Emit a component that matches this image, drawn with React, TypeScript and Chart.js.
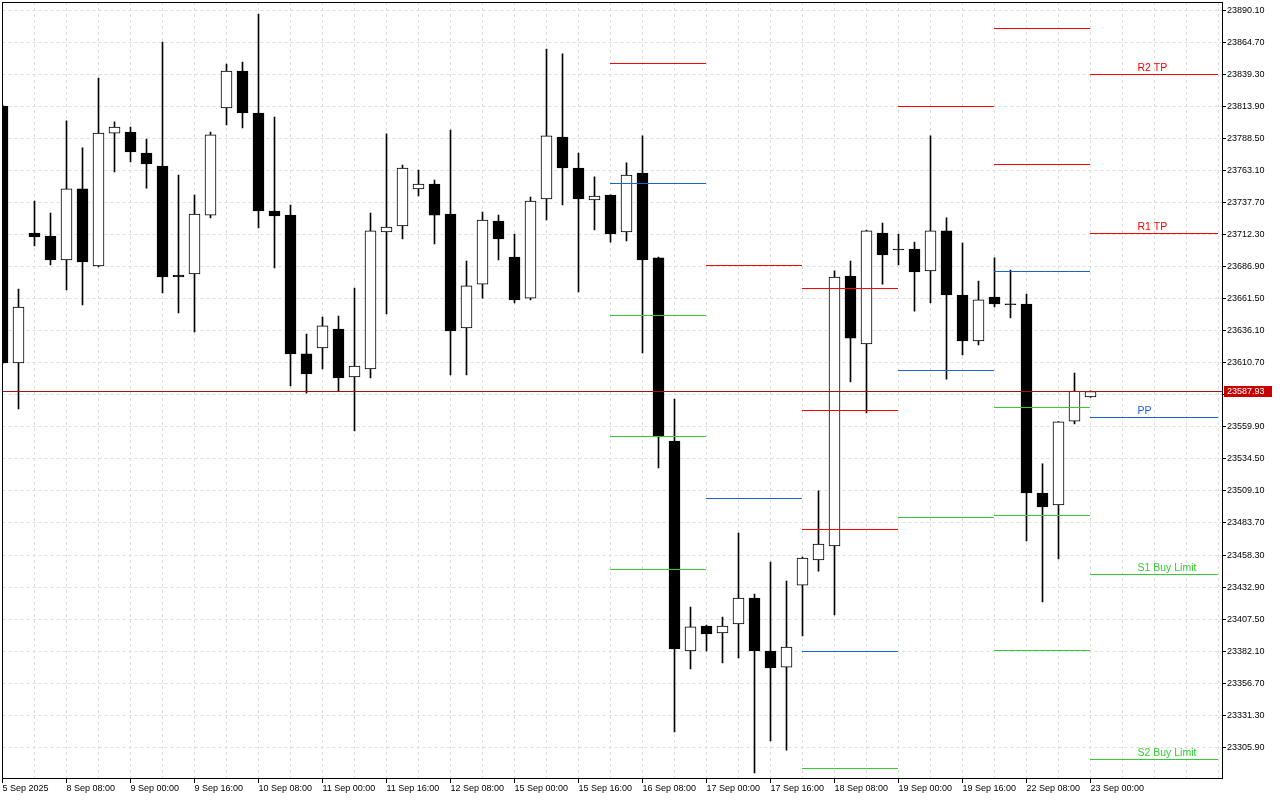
import React, { useEffect, useRef } from 'react';
import { Chart, registerables } from 'chart.js';

Chart.register(...registerables);

const FONT = '"Liberation Sans", Arial, sans-serif';

// ---- time axis labels (every 4th H4 candle) ----
const TIME_LABELS = [
  '5 Sep 2025', '8 Sep 08:00', '9 Sep 00:00', '9 Sep 16:00', '10 Sep 08:00', '11 Sep 00:00',
  '11 Sep 16:00', '12 Sep 08:00', '15 Sep 00:00', '15 Sep 16:00', '16 Sep 08:00', '17 Sep 00:00',
  '17 Sep 16:00', '18 Sep 08:00', '19 Sep 00:00', '19 Sep 16:00', '22 Sep 08:00', '23 Sep 00:00',
];

// ---- OHLC series ----
const OPEN = [
  23814.2, 23610.5, 23713.6, 23711.2, 23692.2, 23748.5, 23687.4, 23792.8, 23793.6, 23777.0,
  23766.7, 23680.3, 23681.1, 23727.8, 23812.7, 23842.0, 23808.7, 23731.0, 23727.8, 23617.7,
  23622.4, 23637.5, 23599.4, 23605.8, 23714.4, 23719.1, 23748.5, 23752.4, 23728.6, 23638.3,
  23673.1, 23723.1, 23694.5, 23662.0, 23740.5, 23789.7, 23765.1, 23739.7, 23743.7, 23714.4,
  23761.1, 23693.8, 23548.7, 23382.2, 23402.0, 23396.5, 23403.6, 23424.2, 23382.2, 23369.5,
  23434.5, 23454.4, 23465.5, 23679.5, 23625.6, 23713.6, 23700.9, 23700.9, 23683.5, 23715.2,
  23664.4, 23628.0, 23662.8, 23657.5, 23657.3, 23507.5, 23498.0, 23564.5, 23583.6,
];
const HIGH = [
  23815.0, 23669.2, 23738.9, 23729.4, 23802.4, 23781.0, 23836.4, 23801.6, 23797.6, 23788.1,
  23865.0, 23759.5, 23743.7, 23793.6, 23847.5, 23849.1, 23887.2, 23805.5, 23735.8, 23633.5,
  23647.0, 23647.8, 23670.0, 23729.4, 23792.1, 23767.5, 23763.5, 23755.6, 23795.2, 23691.4,
  23730.2, 23727.8, 23712.8, 23742.1, 23859.4, 23855.5, 23777.0, 23758.0, 23743.9, 23769.1,
  23790.5, 23694.5, 23582.0, 23417.1, 23402.8, 23409.2, 23475.8, 23427.4, 23452.8, 23437.7,
  23456.7, 23509.1, 23683.5, 23691.4, 23715.8, 23721.5, 23712.8, 23706.4, 23790.5, 23725.5,
  23705.6, 23675.5, 23693.8, 23684.2, 23665.2, 23530.5, 23564.0, 23602.6, 23588.5,
];
const LOW = [
  23609.7, 23574.1, 23703.3, 23688.2, 23668.4, 23656.5, 23686.6, 23761.9, 23769.9, 23749.2,
  23666.0, 23650.2, 23635.1, 23725.5, 23799.2, 23796.8, 23717.5, 23685.8, 23592.3, 23586.7,
  23605.8, 23588.3, 23556.6, 23598.6, 23649.4, 23708.8, 23742.9, 23704.9, 23601.0, 23601.0,
  23662.0, 23692.2, 23658.1, 23660.5, 23723.9, 23735.8, 23666.8, 23716.0, 23706.4, 23707.2,
  23618.5, 23527.3, 23318.0, 23368.0, 23382.2, 23372.7, 23376.7, 23285.5, 23310.9, 23303.7,
  23394.1, 23445.6, 23410.8, 23595.5, 23570.9, 23673.1, 23688.2, 23651.7, 23658.1, 23597.8,
  23616.9, 23624.8, 23654.9, 23646.2, 23469.4, 23421.1, 23455.2, 23562.2, 23583.2,
];
const CLOSE = [
  23610.5, 23654.9, 23710.4, 23692.2, 23748.5, 23690.6, 23792.8, 23797.6, 23777.8, 23768.3,
  23678.7, 23678.7, 23728.6, 23791.3, 23842.0, 23808.7, 23731.0, 23727.1, 23617.7, 23601.8,
  23639.9, 23598.6, 23608.1, 23715.2, 23718.3, 23765.1, 23752.4, 23727.8, 23635.9, 23671.6,
  23723.9, 23708.8, 23660.5, 23738.9, 23790.5, 23765.1, 23740.5, 23742.9, 23712.8, 23759.5,
  23692.2, 23551.9, 23383.8, 23401.3, 23395.7, 23402.0, 23424.2, 23382.2, 23368.8, 23385.4,
  23455.9, 23467.0, 23678.7, 23630.3, 23715.2, 23696.1, 23700.1, 23682.7, 23715.2, 23664.4,
  23628.0, 23660.5, 23657.3, 23656.7, 23507.5, 23496.4, 23563.8, 23588.3, 23587.93,
];

const CURRENT_PRICE = 23587.93;

// ---- price axis ----
const Y_TICKS = [
  23305.9, 23331.3, 23356.7, 23382.1, 23407.5, 23432.9, 23458.3, 23483.7, 23509.1, 23534.5,
  23559.9, 23585.3, 23610.7, 23636.1, 23661.5, 23686.9, 23712.3, 23737.7, 23763.1, 23788.5,
  23813.9, 23839.3, 23864.7, 23890.1,
];
const Y_MIN = 23281.56;
const Y_MAX = 23896.68;
const X_MIN = 0;
const X_MAX = 76.21875;
const X_GRID_STEP = 2;

// ---- daily pivot levels (candle index ranges) ----
const PIVOT_START = [38, 44, 50, 56, 62, 68];
const PIVOT_END = [44, 50, 56, 62, 68, 76];
const RED_LEVELS = [
  [23848.3], [23688.2], [23669.2, 23572.5, 23478.9], [23814.2], [23875.3, 23767.5], [23839.5, 23713.0],
];
const BLUE_LEVELS = [[23753.2], [23503.5], [23382.2], [23604.2], [23682.7], [23567.7]];
const GREEN_LEVELS = [
  [23647.8, 23552.6, 23447.2], [], [23288.7], [23487.7], [23575.6, 23490.0, 23383.0], [23442.5, 23296.6],
];

const LEVEL_LABELS = ['R2 TP', 'R1 TP', 'PP', 'S1 Buy Limit', 'S2 Buy Limit'];
const LEVEL_LABEL_PRICES = [23839.5, 23713.0, 23567.7, 23442.5, 23296.6];
const LEVEL_LABEL_X = 71;

const RED = '#ff0000';
const BLUE = '#1f5fd6';
const GREEN = '#32cd32';
const LEVEL_LABEL_COLORS = [RED, RED, BLUE, GREEN, GREEN];

function levelPoints(levels: number[][]) {
  const pts: { x: number; y: number | null }[] = [];
  levels.forEach((vals, d) => {
    vals.forEach((v) => {
      pts.push({ x: PIVOT_START[d], y: v }, { x: PIVOT_END[d], y: v }, { x: PIVOT_END[d], y: null });
    });
  });
  return pts;
}

// Draws the library-computed line points snapped to whole pixels (crisp 1px level lines).
const crispLinesPlugin = {
  id: 'crispLines',
  beforeDatasetDraw(chart: any, args: any) {
    const ds = chart.data.datasets[args.index];
    if (ds.type !== 'line') return;
    const { ctx, chartArea } = chart;
    const pts = args.meta.data;
    ctx.save();
    ctx.beginPath();
    ctx.rect(chartArea.left, chartArea.top, chartArea.right - chartArea.left, chartArea.bottom - chartArea.top);
    ctx.clip();
    ctx.strokeStyle = ds.borderColor;
    ctx.lineWidth = 1;
    ctx.beginPath();
    for (let i = 0; i + 1 < pts.length; i++) {
      const a = pts[i];
      const b = pts[i + 1];
      if (a.skip || b.skip || !isFinite(a.y) || !isFinite(b.y)) continue;
      ctx.moveTo(Math.floor(a.x), Math.floor(a.y) + 0.5);
      ctx.lineTo(Math.floor(b.x), Math.floor(b.y) + 0.5);
    }
    ctx.stroke();
    ctx.restore();
    return false;
  },
};

const framePlugin = {
  id: 'frame',
  afterDraw(chart: any) {
    const { ctx, chartArea } = chart;
    const l = Math.floor(chartArea.left);
    ctx.save();
    ctx.strokeStyle = '#000';
    ctx.lineWidth = 1;
    ctx.strokeRect(l + 0.5, Math.floor(chartArea.top) + 0.5, Math.round(chartArea.right) - l, Math.round(chartArea.bottom - chartArea.top));
    ctx.restore();
  },
};

const levelLabelPlugin = {
  id: 'levelLabels',
  afterDatasetsDraw(chart: any) {
    const { ctx } = chart;
    const x = chart.scales.x;
    const y = chart.scales.y;
    ctx.save();
    ctx.font = `10.5px ${FONT}`;
    ctx.textAlign = 'left';
    ctx.textBaseline = 'alphabetic';
    LEVEL_LABELS.forEach((t, i) => {
      ctx.fillStyle = LEVEL_LABEL_COLORS[i];
      ctx.fillText(t, x.getPixelForValue(LEVEL_LABEL_X) - 1, Math.floor(y.getPixelForValue(LEVEL_LABEL_PRICES[i])) - 3);
    });
    ctx.restore();
  },
};

const priceTagPlugin = {
  id: 'priceTag',
  afterDraw(chart: any) {
    const { ctx, chartArea } = chart;
    const y = chart.scales.y;
    const py = Math.floor(y.getPixelForValue(CURRENT_PRICE));
    ctx.save();
    ctx.fillStyle = '#c80000';
    ctx.fillRect(chartArea.right + 2, py - 5, 48, 11);
    ctx.fillStyle = '#ffffff';
    ctx.font = `9px ${FONT}`;
    ctx.textAlign = 'left';
    ctx.textBaseline = 'middle';
    ctx.fillText(CURRENT_PRICE.toFixed(2), chartArea.right + 5, py + 0.5);
    ctx.restore();
  },
};

export default function App() {
  const ref = useRef<HTMLCanvasElement>(null);

  useEffect(() => {
    const canvas = ref.current;
    if (!canvas) return;
    const idx = OPEN.map((_, i) => i);

    const lineBase = { type: 'line', order: 1, borderWidth: 1, pointRadius: 0, spanGaps: false, tension: 0 };

    const datasets: any[] = [
      { ...lineBase, label: 'red', data: levelPoints(RED_LEVELS), borderColor: RED },
      { ...lineBase, label: 'blue', data: levelPoints(BLUE_LEVELS), borderColor: BLUE },
      { ...lineBase, label: 'green', data: levelPoints(GREEN_LEVELS), borderColor: GREEN },
      {
        ...lineBase,
        label: 'price',
        data: [
          { x: X_MIN, y: CURRENT_PRICE },
          { x: X_MAX, y: CURRENT_PRICE },
        ],
        borderColor: '#a81010',
      },
      {
        type: 'bar',
        label: 'body',
        order: 2,
        data: idx.map((i) => ({ x: i, y: [OPEN[i], CLOSE[i]] })),
        backgroundColor: idx.map((i) => (CLOSE[i] >= OPEN[i] ? '#ffffff' : '#000000')),
        borderColor: '#000000',
        borderWidth: 1,
        borderSkipped: false,
        barThickness: 11,
        grouped: false,
        minBarLength: 1,
      },
      {
        type: 'bar',
        label: 'wick',
        order: 3,
        data: idx.map((i) => ({ x: i, y: [LOW[i], HIGH[i]] })),
        backgroundColor: '#000000',
        borderWidth: 0,
        barThickness: 1,
        grouped: false,
      },
    ];

    const xTicks: number[] = [];
    for (let v = X_MIN; v <= X_MAX; v += X_GRID_STEP) xTicks.push(v);

    const chart = new Chart(canvas, {
      type: 'bar',
      data: { datasets },
      options: {
        animation: false,
        responsive: false,
        devicePixelRatio: 1,
        events: [],
        layout: { padding: { left: 2.5, top: 2, right: 0, bottom: 0 }, autoPadding: false },
        plugins: { legend: { display: false }, tooltip: { enabled: false } },
        scales: {
          x: {
            type: 'linear',
            min: X_MIN,
            max: X_MAX,
            offset: false,
            afterBuildTicks: (s: any) => {
              s.ticks = xTicks.map((v) => ({ value: v }));
            },
            afterFit: (s: any) => {
              s.height = 22;
              s.paddingLeft = 0;
              s.paddingRight = 0;
            },
            grid: {
              offset: false,
              color: '#dedede',
              lineWidth: 1,
              drawTicks: true,
              tickLength: 5,
              tickWidth: 1,
              tickColor: (ctx: any) => {
                const v = ctx.tick ? ctx.tick.value : -1;
                return v % 4 === 0 && v / 4 < TIME_LABELS.length ? '#000000' : 'rgba(0,0,0,0)';
              },
            },
            border: { display: false, dash: [3, 3] },
            ticks: {
              autoSkip: false,
              maxRotation: 0,
              minRotation: 0,
              align: 'start',
              padding: 0,
              color: '#000000',
              font: { family: FONT, size: 9 },
              callback: (value: any) => {
                const v = Number(value);
                return v % 4 === 0 ? TIME_LABELS[v / 4] ?? '' : '';
              },
            },
          },
          y: {
            type: 'linear',
            position: 'right',
            min: Y_MIN,
            max: Y_MAX,
            afterBuildTicks: (s: any) => {
              s.ticks = Y_TICKS.map((v) => ({ value: v }));
            },
            afterFit: (s: any) => {
              s.width = 58;
              s.paddingTop = 0;
              s.paddingBottom = 0;
            },
            grid: {
              color: '#dedede',
              lineWidth: 1,
              drawTicks: true,
              tickLength: 4,
              tickWidth: 1,
              tickColor: '#000000',
            },
            border: { display: false, dash: [3, 3] },
            ticks: {
              autoSkip: false,
              padding: 1,
              color: '#000000',
              font: { family: FONT, size: 9 },
              callback: (value: any) => Number(value).toFixed(2),
            },
          },
        },
      } as any,
      plugins: [crispLinesPlugin, framePlugin, levelLabelPlugin, priceTagPlugin],
    });

    return () => chart.destroy();
  }, []);

  return (
    <div style={{ position: 'fixed', left: 0, top: 0, width: 1280, height: 800, background: '#ffffff' }}>
      <canvas ref={ref} width={1280} height={800} style={{ display: 'block', width: 1280, height: 800 }} />
    </div>
  );
}
